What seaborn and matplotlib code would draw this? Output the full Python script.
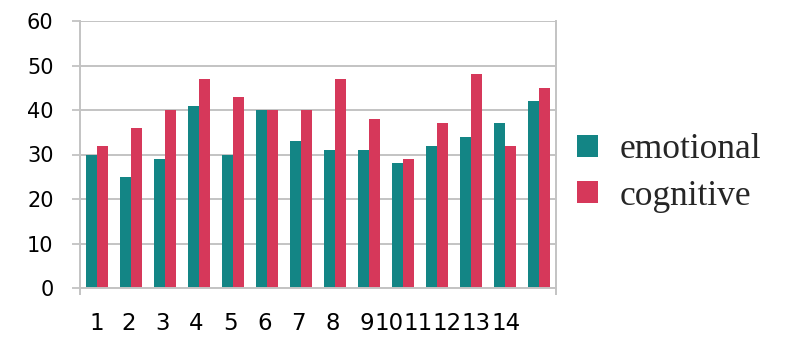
import numpy as np
import pandas as pd
import matplotlib
matplotlib.use("Agg")
import matplotlib.pyplot as plt
import seaborn as sns
from matplotlib.patches import Patch

categories = [str(i) for i in range(1, 15)]
emotional = [30, 25, 29, 41, 30, 40, 33, 31, 31, 28, 32, 34, 37, 42]
cognitive = [32, 36, 40, 47, 43, 40, 40, 47, 38, 29, 37, 48, 32, 45]
series_names = ["emotional", "cognitive"]
colors = ["#138585", "#d6385a"]
yticks = [0, 10, 20, 30, 40, 50, 60]

df = pd.DataFrame({
    "cat": categories * 2,
    "value": emotional + cognitive,
    "series": [series_names[0]] * len(categories) + [series_names[1]] * len(categories),
})

sns.set_theme(style="white")
plt.rcParams["font.family"] = ["DejaVu Sans"]

fig = plt.figure(figsize=(8.08, 3.64), dpi=100)
ax = fig.add_axes([80 / 808, 1 - 288 / 364, 476 / 808, 267 / 364])

sns.barplot(data=df, x="cat", y="value", hue="series", order=categories,
            hue_order=series_names, palette=colors, width=0.66,
            saturation=1, linewidth=0, ax=ax, legend=False)

grid_c = "#c3c3c3"
ax.set_ylim(0, 60)
ax.set_xlim(-0.5, len(categories) - 0.5)
ax.set_yticks(yticks)
ax.set_yticklabels([str(v) for v in yticks], fontsize=15)
ax.yaxis.grid(True, color=grid_c, linewidth=1.4)
ax.set_axisbelow(True)
ax.tick_params(axis="y", which="major", length=6, width=1.3, color=grid_c,
               pad=13, direction="out", left=True)
ax.set_xlabel("")
ax.set_ylabel("")

for s in ["left", "right", "bottom"]:
    ax.spines[s].set_visible(True)
    ax.spines[s].set_color(grid_c)
    ax.spines[s].set_linewidth(1.4)
ax.spines["top"].set_visible(False)

# x tick labels: 1-8 near group centres, 9-14 crammed together (as in source)
fs_x = 16.5
char_w = 0.43  # width of one digit in category units (source layout)
positions = []
cursor = 7.72
for i, lab in enumerate(categories):
    if i < 8:
        positions.append(i - 0.07 if i > 0 else 0.0)
    else:
        w = len(lab) * char_w
        positions.append(cursor + w / 2)
        cursor += w
ax.set_xticks(positions)
ax.set_xticklabels(categories, fontsize=fs_x)
ax.tick_params(axis="x", which="major", length=0, pad=17, colors="black")
ax.set_xticks([-0.5, len(categories) - 0.5], minor=True)
ax.tick_params(axis="x", which="minor", length=5, width=1.4, color=grid_c,
               direction="out", bottom=True)
for lbl in ax.get_xticklabels() + ax.get_yticklabels():
    lbl.set_color("black")

handles = [Patch(facecolor=c, edgecolor="none") for c in colors]
fig.legend(handles, series_names, loc="center left",
           bbox_to_anchor=(577 / 808, 1 - 173 / 364), frameon=False,
           prop={"family": ["Liberation Serif"], "size": 25.5},
           handlelength=0.58, handleheight=0.58, handletextpad=0.62,
           labelspacing=0.38, borderpad=0, borderaxespad=0)

fig.savefig("out.png", dpi=100)
